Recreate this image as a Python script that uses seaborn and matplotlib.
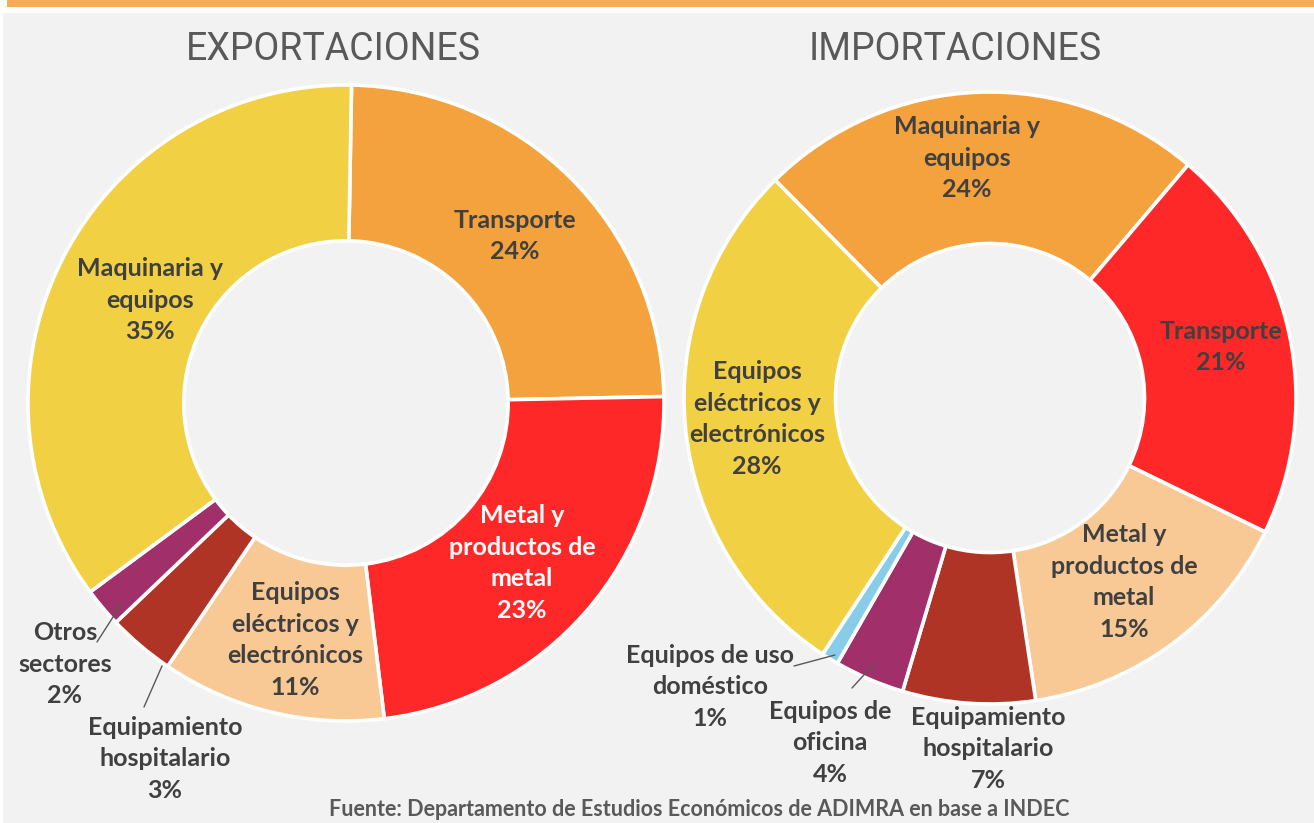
import matplotlib.pyplot as plt
from matplotlib.patches import Rectangle
import seaborn as sns

# data (share of total, %)
export_names = ["Transporte", "Metal y\nproductos de\nmetal", "Equipos\neléctricos y\nelectrónicos",
                "Equipamiento\nhospitalario", "Otros\nsectores", "Maquinaria y\nequipos"]
export_share = [24.4, 23.4, 11.4, 3.4, 2.0, 35.4]

import_names = ["Maquinaria y\nequipos", "Transporte", "Metal y\nproductos de\nmetal",
                "Equipamiento\nhospitalario", "Equipos de\noficina", "Equipos de uso\ndoméstico",
                "Equipos\neléctricos y\nelectrónicos"]
import_share = [23.6, 21.0, 15.4, 7.0, 3.7, 0.9, 28.4]

palette = ["#F4A23E", "#FF2828", "#F9C995", "#B03426", "#A12F69", "#87CDE9", "#F2D043"]
export_colors = palette[:5] + [palette[6]]
import_colors = palette

# label positions in pixels (x, y from top) and leader lines
export_pos = [(515, 236), (522, 563), (295, 640), (165, 759), (65, 664), (150, 300)]
import_pos = [(967, 158), (1221, 347), (1124, 582), (988, 749), (830, 743), (710, 687), (757, 419)]
export_lines = {3: [(162, 666), (144, 707)], 4: [(122, 603), (97, 642)]}
import_lines = {4: [(873, 665), (852, 688)], 5: [(835, 655), (794, 666)]}

W, H = 1314, 823
sns.set_theme(style="white")
plt.rcParams["font.family"] = ["Lato", "DejaVu Sans"]

fig = plt.figure(figsize=(W / 100, H / 100), dpi=100)
fig.patch.set_facecolor("white")

ax = fig.add_axes([0, 0, 1, 1])
ax.patch.set_alpha(0)
ax.add_patch(Rectangle((7, H - 7), W, 7, facecolor="#F9AB55", edgecolor="none", zorder=0))
ax.add_patch(Rectangle((3, 0), W, H - 13, facecolor="#F2F2F2", edgecolor="none", zorder=0))


def px(x, y):
    return x, H - y


def donut(values, colors, center, radius, hole, start, names, pos, lines, white_idx=()):
    wedges, _ = ax.pie(values, colors=colors, center=px(*center), radius=radius,
                       startangle=start, counterclock=False,
                       wedgeprops=dict(width=radius * (1 - hole), edgecolor="white", linewidth=2.6))
    for i, (name, v) in enumerate(zip(names, values)):
        col = "white" if i in white_idx else "#404040"
        ax.text(*px(*pos[i]), f"{name}\n{round(v):.0f}%", ha="center", va="center",
                fontsize=18, fontweight="bold", color=col, linespacing=1.45)
    for (x0, y0), (x1, y1) in lines.values():
        ax.plot([x0, x1], [H - y0, H - y1], color="#595959", lw=1)


donut(export_share, export_colors, (346, 403), 318, 0.51, 89, export_names, export_pos,
      export_lines, white_idx=(1,))
donut(import_share, import_colors, (990, 398), 306, 0.505, 134.6, import_names, import_pos,
      import_lines)

ax.set_xlim(0, W)
ax.set_ylim(0, H)
ax.set_axis_off()

title_font = ["Liberation Sans Narrow", "Roboto", "DejaVu Sans"]
ax.text(*px(333, 49), "EXPORTACIONES", ha="center", va="center", fontsize=27,
        color="#595959", family=title_font)
ax.text(*px(955, 49), "IMPORTACIONES", ha="center", va="center", fontsize=27,
        color="#595959", family=title_font)
ax.text(*px(699, 810), "Fuente: Departamento de Estudios Económicos de ADIMRA en base a INDEC",
        ha="center", va="center", fontsize=15.5, fontweight="bold", color="#595959")

fig.savefig("out.png", dpi=100)
